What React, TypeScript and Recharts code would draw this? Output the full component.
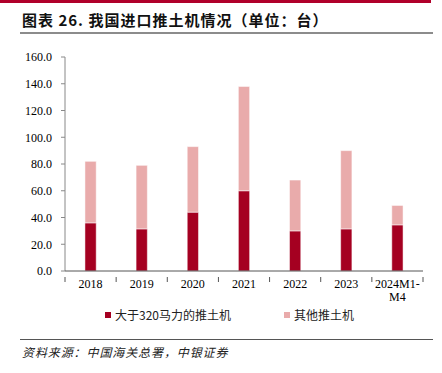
import React from "react";
import { BarChart, Bar, XAxis, YAxis } from "recharts";

const categories = ["2018", "2019", "2020", "2021", "2022", "2023", "2024M1-M4"];
const bigDozers = [36, 31.5, 44, 60, 30, 31.5, 34.5];
const otherDozers = [46, 47.5, 49, 78, 38, 58.5, 14.5];
const yTicks = [0, 20, 40, 60, 80, 100, 120, 140, 160];
const seriesNames = ["大于320马力的推土机", "其他推土机"];
const titleText = "图表 26. 我国进口推土机情况（单位：台）";
const sourceText = "资料来源：中国海关总署，中银证券";

const data = categories.map((c, i) => ({ name: c, big: bigDozers[i], other: otherDozers[i] }));

const RED = "#A50021";
const PINK = "#E9ABAB";
const SERIF = "'Liberation Serif', 'Times New Roman', serif";
const CJK = "'Noto Sans CJK SC', sans-serif";

const PLOT_LEFT = 65;
const PLOT_RIGHT = 423;
const BAND = (PLOT_RIGHT - PLOT_LEFT) / categories.length;

const XTick = (props: any) => {
  const { x, y, payload, index } = props;
  const label: string = payload.value;
  const lines = label === "2024M1-M4" ? ["2024M1-", "M4"] : [label];
  const left = x - BAND / 2;
  const right = x + BAND / 2;
  return (
    <g>
      <line x1={left} x2={left} y1={y - 2} y2={y + 3} stroke="#555" strokeWidth={1} />
      {index === categories.length - 1 && (
        <line x1={right} x2={right} y1={y - 2} y2={y + 3} stroke="#555" strokeWidth={1} />
      )}
      {lines.map((l, i) => (
        <text key={i} x={x} y={y + 9 + i * 13} textAnchor="middle" fontFamily={SERIF} fontSize={12} fill="#000">
          {l}
        </text>
      ))}
    </g>
  );
};

export default function App() {
  return (
    <div style={{ position: "absolute", left: 0, top: 0, width: 442, height: 373, background: "#fff", overflow: "hidden" }}>
      <div style={{ position: "absolute", left: 0, top: 0, width: 431, height: 3, background: "#B0002A" }} />
      <div
        style={{
          position: "absolute",
          left: 22,
          top: 11,
          fontFamily: CJK,
          fontWeight: 700,
          fontSize: 15,
          lineHeight: "18px",
          letterSpacing: 1,
          color: "#111",
          whiteSpace: "nowrap",
        }}
      >
        {titleText}
      </div>
      <div style={{ position: "absolute", left: 20, top: 32, width: 413, height: 2, background: "#8c8c8c" }} />
      <div style={{ position: "absolute", left: 0, top: 0 }}>
        <BarChart
          width={442}
          height={373}
          data={data}
          margin={{ top: 57, right: 19, bottom: 72, left: 0 }}
          barCategoryGap="61%"
        >
          <YAxis
            width={65}
            domain={[0, 160]}
            ticks={yTicks}
            interval={0}
            tickFormatter={(v: number) => v.toFixed(1)}
            axisLine={{ stroke: "#888" }}
            tickLine={{ stroke: "#888" }}
            tickSize={4}
            tickMargin={9}
            tick={{ fontFamily: SERIF, fontSize: 12, fill: "#000" }}
          />
          <XAxis
            dataKey="name"
            height={30}
            interval={0}
            axisLine={{ stroke: "#555" }}
            tickLine={false}
            tick={<XTick />}
          />
          <Bar dataKey="big" stackId="a" fill={RED} stroke="#fff" strokeWidth={0.5} isAnimationActive={false} />
          <Bar dataKey="other" stackId="a" fill={PINK} stroke="#fff" strokeWidth={0.5} isAnimationActive={false} />
        </BarChart>
      </div>
      <div style={{ position: "absolute", left: 105, top: 306, display: "flex", alignItems: "center", fontFamily: CJK, fontSize: 12, color: "#222", whiteSpace: "nowrap" }}>
        <span style={{ display: "inline-block", width: 6, height: 6, background: RED, marginRight: 4 }} />
        <span>{seriesNames[0]}</span>
      </div>
      <div style={{ position: "absolute", left: 284, top: 306, display: "flex", alignItems: "center", fontFamily: CJK, fontSize: 12, color: "#222", whiteSpace: "nowrap" }}>
        <span style={{ display: "inline-block", width: 6, height: 6, background: PINK, marginRight: 4 }} />
        <span>{seriesNames[1]}</span>
      </div>
      <div style={{ position: "absolute", left: 20, top: 339, width: 413, height: 1, background: "#555" }} />
      <div
        style={{
          position: "absolute",
          left: 22,
          top: 344,
          fontFamily: CJK,
          fontStyle: "italic",
          fontSize: 12,
          lineHeight: "16px",
          color: "#222",
          whiteSpace: "nowrap",
          letterSpacing: 0.9,
        }}
      >
        {sourceText}
      </div>
    </div>
  );
}
